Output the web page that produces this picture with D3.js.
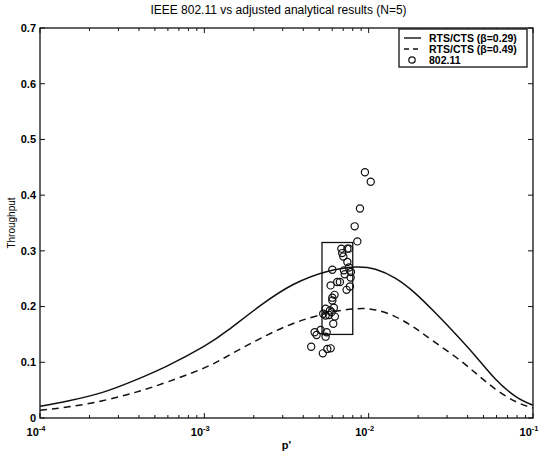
<!DOCTYPE html>
<html lang="en">
<head>
<meta charset="UTF-8">
<title>IEEE 802.11 vs adjusted analytical results</title>
<style>
    body { margin: 0; background: #fff; }
    svg { font-family: "Liberation Sans", Arial, sans-serif; }
    .line { fill: none; stroke: #111; stroke-width: 1.5px; }
</style>
</head>
<body>
<svg id="chart" width="543" height="454"></svg>
<script src="https://d3js.org/d3.v7.min.js"></script>
<script>
var pValues = [1e-4, 1.5e-4, 2.4e-4, 3.8e-4, 6e-4, 1e-3, 1.4e-3, 2.2e-3, 3.5e-3, 5.6e-3,
    8.3e-3, 1.1e-2, 1.45e-2, 1.9e-2, 2.5e-2, 3.4e-2, 4.5e-2, 5.9e-2, 7.9e-2, 1e-1];
var rtsBeta029 = [0.021, 0.031, 0.046, 0.068, 0.094, 0.129, 0.158, 0.202, 0.240, 0.263,
    0.271, 0.267, 0.251, 0.225, 0.191, 0.150, 0.110, 0.070, 0.038, 0.023];
var rtsBeta049 = [0.014, 0.020, 0.031, 0.046, 0.065, 0.090, 0.112, 0.143, 0.170, 0.188,
    0.196, 0.194, 0.182, 0.162, 0.137, 0.109, 0.080, 0.052, 0.029, 0.018];

// 802.11 simulation points: p', throughput
var simP = [9.49e-3, 1.029e-2, 8.85e-3, 8.22e-3, 8.53e-3, 7.42e-3, 6.82e-3, 7.59e-3, 7.01e-3,
    7.42e-3, 7.59e-3, 6.01e-3, 7.07e-3, 7.77e-3, 6.44e-3, 6.68e-3, 5.87e-3, 7.69e-3, 7.34e-3,
    6.01e-3, 6.01e-3, 6.14e-3, 5.47e-3, 5.81e-3, 5.29e-3, 5.73e-3, 6.23e-3, 5.47e-3, 6.09e-3,
    5.10e-3, 5.55e-3, 4.69e-3, 4.82e-3, 5.47e-3, 4.47e-3, 5.87e-3, 5.60e-3, 5.26e-3,
    6.90e-3, 7.15e-3, 6.20e-3, 5.95e-3, 7.80e-3];
var simThroughput = [0.441, 0.424, 0.376, 0.344, 0.317, 0.304, 0.304, 0.304, 0.290,
    0.280, 0.270, 0.266, 0.265, 0.252, 0.244, 0.244, 0.238, 0.236, 0.230,
    0.216, 0.211, 0.198, 0.196, 0.193, 0.187, 0.185, 0.182, 0.184, 0.169,
    0.158, 0.154, 0.154, 0.149, 0.146, 0.128, 0.125, 0.124, 0.116,
    0.296, 0.258, 0.221, 0.190, 0.262];

// highlighted region
var boxP = [5.2e-3, 8.0e-3];
var boxThroughput = [0.150, 0.315];

var yTicks = [0, 0.1, 0.2, 0.3, 0.4, 0.5, 0.6, 0.7];
var xMajor = [1e-4, 1e-3, 1e-2, 1e-1];
var xExponents = ["-4", "-3", "-2", "-1"];

var legendLabels = ["RTS/CTS (\u03B2=0.29)", "RTS/CTS (\u03B2=0.49)", "802.11"];

var svg = d3.select("#chart"),
    margin = { top: 28, right: 10, bottom: 36, left: 40 },
    width = +svg.attr("width") - margin.left - margin.right,
    height = +svg.attr("height") - margin.top - margin.bottom,
    g = svg.append("g").attr("transform", "translate(" + margin.left + "," + margin.top + ")");

var x = d3.scaleLog().domain([1e-4, 1e-1]).range([0, width]),
    y = d3.scaleLinear().domain([0, 0.7]).range([height, 0]);

// minor ticks 2..9 in every decade
var xMinor = [];
xMajor.slice(0, 3).forEach(function(d) {
    for (var k = 2; k <= 9; k++) xMinor.push(d * k);
});

// frame
g.append("rect")
    .attr("width", width)
    .attr("height", height)
    .attr("fill", "none")
    .attr("stroke", "#111")
    .attr("stroke-width", 1.3);

// inward ticks on all four sides
function tickLines(values, len, horizontal) {
    values.forEach(function(v) {
        if (horizontal) {
            var px = x(v);
            g.append("line").attr("x1", px).attr("x2", px).attr("y1", height).attr("y2", height - len)
                .attr("stroke", "#111");
            g.append("line").attr("x1", px).attr("x2", px).attr("y1", 0).attr("y2", len)
                .attr("stroke", "#111");
        } else {
            var py = y(v);
            g.append("line").attr("x1", 0).attr("x2", len).attr("y1", py).attr("y2", py)
                .attr("stroke", "#111");
            g.append("line").attr("x1", width).attr("x2", width - len).attr("y1", py).attr("y2", py)
                .attr("stroke", "#111");
        }
    });
}
tickLines(xMajor, 5, true);
tickLines(xMinor, 3, true);
tickLines(yTicks, 5, false);

// y tick labels
g.selectAll(".ylab")
    .data(yTicks)
    .enter().append("text")
    .attr("class", "ylab")
    .attr("x", -4)
    .attr("y", function(d) { return y(d); })
    .attr("dy", "0.35em")
    .attr("text-anchor", "end")
    .style("font-size", "11px")
    .style("font-weight", "bold")
    .text(function(d) { return d === 0 ? "0" : d3.format(".1f")(d); });

// x tick labels 10^n
var xlab = g.selectAll(".xlab")
    .data(xMajor)
    .enter().append("text")
    .attr("class", "xlab")
    .attr("x", function(d) { return x(d) - 4; })
    .attr("y", height + 18)
    .attr("text-anchor", "middle")
    .style("font-size", "11px")
    .style("font-weight", "bold");
xlab.append("tspan").text("10");
xlab.append("tspan")
    .attr("dy", "-5")
    .style("font-size", "7.5px")
    .text(function(d, i) { return xExponents[i]; });

// axis titles
svg.append("text")
    .attr("x", margin.left + width / 2 - 8)
    .attr("y", 14)
    .attr("text-anchor", "middle")
    .style("font-size", "12px")
    .text("IEEE 802.11 vs adjusted analytical results (N=5)");

svg.append("text")
    .attr("x", margin.left + width / 2)
    .attr("y", 449)
    .attr("text-anchor", "middle")
    .style("font-size", "11px")
    .style("font-weight", "bold")
    .text("p'");

svg.append("text")
    .attr("transform", "translate(15," + (margin.top + height / 2) + ") rotate(-90)")
    .attr("text-anchor", "middle")
    .style("font-size", "10px")
    .text("Throughput");

// analytical curves
var line = d3.line()
    .curve(d3.curveNatural)
    .x(function(d) { return x(d[0]); })
    .y(function(d) { return y(d[1]); });

g.append("path")
    .attr("class", "line")
    .attr("d", line(d3.zip(pValues, rtsBeta029)));

g.append("path")
    .attr("class", "line")
    .attr("stroke-dasharray", "7,5")
    .attr("d", line(d3.zip(pValues, rtsBeta049)));

// highlight box
g.append("rect")
    .attr("x", x(boxP[0]))
    .attr("y", y(boxThroughput[1]))
    .attr("width", x(boxP[1]) - x(boxP[0]))
    .attr("height", y(boxThroughput[0]) - y(boxThroughput[1]))
    .attr("fill", "none")
    .attr("stroke", "#111")
    .attr("stroke-width", 1.3);

// simulation markers
g.selectAll(".sim")
    .data(d3.zip(simP, simThroughput))
    .enter().append("circle")
    .attr("class", "sim")
    .attr("cx", function(d) { return x(d[0]); })
    .attr("cy", function(d) { return y(d[1]); })
    .attr("r", 3.6)
    .attr("fill", "none")
    .attr("stroke", "#111")
    .attr("stroke-width", 1.2);

// legend
var lg = g.append("g").attr("transform", "translate(" + (width - 134) + ",1)");
lg.append("rect")
    .attr("width", 128)
    .attr("height", 38)
    .attr("fill", "#fff")
    .attr("stroke", "#111")
    .attr("stroke-width", 1.3);

var item = lg.selectAll(".item")
    .data(legendLabels)
    .enter().append("g")
    .attr("class", "item")
    .attr("transform", function(d, i) { return "translate(0," + (9 + i * 11) + ")"; });

item.filter(function(d, i) { return i < 2; })
    .append("line")
    .attr("x1", 5).attr("x2", 22)
    .attr("stroke", "#111")
    .attr("stroke-width", 1.4)
    .attr("stroke-dasharray", function(d, i) { return i === 1 ? "5,4" : null; });

item.filter(function(d, i) { return i === 2; })
    .append("circle")
    .attr("cx", 13)
    .attr("r", 3.2)
    .attr("fill", "none")
    .attr("stroke", "#111")
    .attr("stroke-width", 1.2);

item.append("text")
    .attr("x", 30)
    .attr("dy", "0.35em")
    .style("font-size", "10.5px")
    .style("font-weight", "bold")
    .text(function(d) { return d; });
</script>
</body>
</html>
